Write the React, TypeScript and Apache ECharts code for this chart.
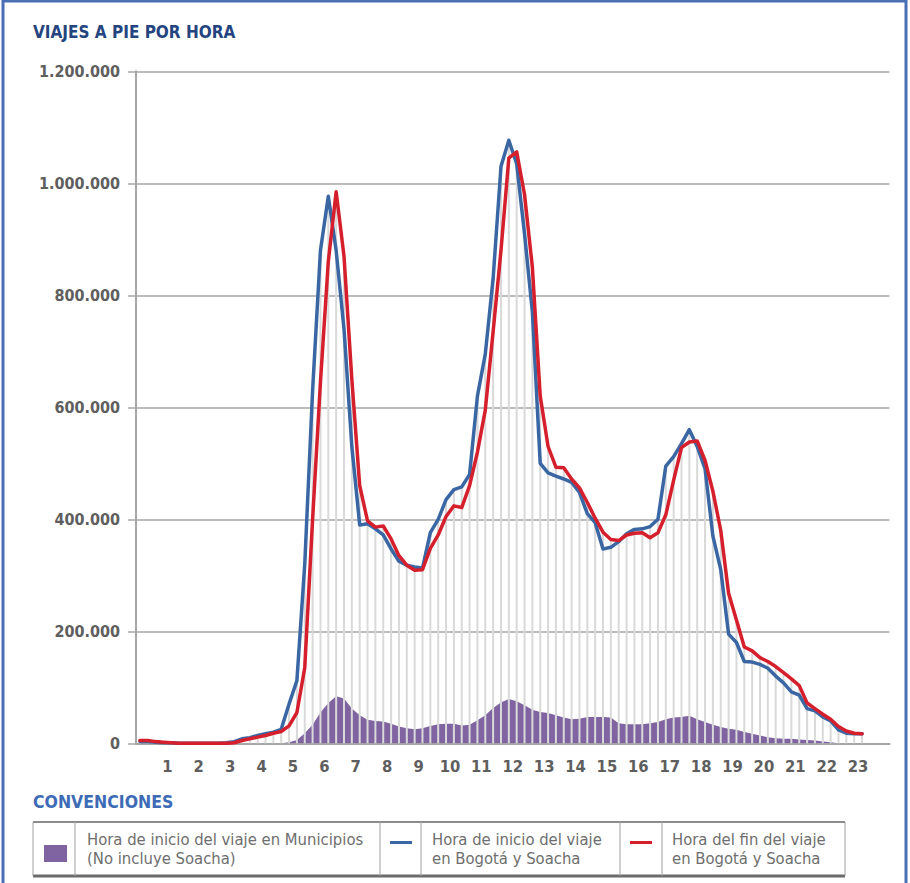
import React, { useEffect, useRef } from "react";
import * as echarts from "echarts";

// Hour tick labels shown on the x axis
const hourTicks = [1, 2, 3, 4, 5, 6, 7, 8, 9, 10, 11, 12, 13, 14, 15, 16, 17, 18, 19, 20, 21, 22, 23];
// Y axis ticks
const yTicks = [0, 200000, 400000, 600000, 800000, 1000000, 1200000];

// Trips on foot per 15-minute slot (slot 0 = 0:00-0:15 ... slot 92 = 23:00-23:15)
const inicioBogota = [
  3000, 3000, 2000, 1000, 1000, 0, 0, 0, 0, 0, 0, 1000,
  3000, 8000, 10000, 14000, 17000, 20000, 25000, 70000, 112000, 320000, 630000, 880000,
  977000, 880000, 740000, 530000, 390000, 392000, 383000, 372000, 347000, 325000, 318000, 315000,
  313000, 376000, 400000, 435000, 453000, 458000, 480000, 620000, 695000, 830000, 1030000, 1077000,
  1035000, 910000, 770000, 500000, 483000, 477000, 472000, 466000, 448000, 410000, 394000, 347000,
  350000, 360000, 374000, 382000, 383000, 387000, 400000, 495000, 512000, 535000, 560000, 530000,
  490000, 370000, 310000, 195000, 180000, 146000, 145000, 141000, 134000, 120000, 108000, 92000,
  86000, 62000, 58000, 47000, 40000, 24000, 18000, 17000, 17000,
];

const finBogota = [
  5000, 5000, 3000, 2000, 1000, 0, 0, 0, 0, 0, 0, 0,
  1000, 5000, 8000, 11000, 14000, 18000, 21000, 31000, 55000, 135000, 400000, 645000,
  860000, 985000, 870000, 650000, 460000, 397000, 386000, 388000, 365000, 335000, 318000, 309000,
  310000, 348000, 372000, 405000, 424000, 421000, 460000, 520000, 595000, 735000, 880000, 1045000,
  1056000, 980000, 850000, 620000, 530000, 493000, 492000, 472000, 456000, 430000, 402000, 377000,
  364000, 362000, 372000, 375000, 376000, 367000, 376000, 408000, 470000, 528000, 538000, 540000,
  505000, 450000, 380000, 268000, 220000, 172000, 165000, 153000, 146000, 137000, 126000, 115000,
  103000, 72000, 62000, 52000, 43000, 30000, 22000, 18000, 17000,
];

const inicioMunicipios = [
  0, 0, 0, 0, 0, 0, 0, 0, 0, 0, 0, 0,
  0, 0, 0, 0, 0, 0, 0, 2000, 6000, 18000, 33000, 55000,
  72000, 84000, 80000, 62000, 50000, 42000, 40000, 39000, 35000, 30000, 27000, 25000,
  27000, 31000, 34000, 35000, 35000, 32000, 33000, 41000, 50000, 63000, 73000, 79000,
  75000, 68000, 60000, 56000, 54000, 50000, 46000, 43000, 44000, 47000, 47000, 47000,
  46000, 36000, 34000, 34000, 34000, 36000, 38000, 43000, 46000, 47000, 49000, 43000,
  38000, 33000, 29000, 26000, 24000, 20000, 17000, 14000, 11000, 9000, 8000, 8000,
  7000, 6000, 5000, 3000, 2000, 0, 0, 0, 0,
];

// Position of each 15-minute slot on the hour axis (slot centre)
const slotHour = (i: number) => i / 4 + 0.125;

const FONT = '"Liberation Sans Narrow", "DejaVu Sans Condensed", "Liberation Sans", sans-serif';

const fmtThousands = (v: number) =>
  String(v).replace(/\B(?=(\d{3})+(?!\d))/g, ".");

export default function App() {
  const ref = useRef<HTMLDivElement>(null);

  useEffect(() => {
    document.body.style.margin = "0";
    if (!ref.current) return;
    const chart = echarts.init(ref.current, null, { renderer: "svg" });

    const muniData = inicioMunicipios.map((v, i) => [slotHour(i), v]);
    const blueData = inicioBogota.map((v, i) => [slotHour(i), v]);
    const redData = finBogota.map((v, i) => [slotHour(i), v]);
    const dropData = inicioBogota.map((v, i) => [slotHour(i), Math.max(v, finBogota[i])]);

    const gray = "#a6a6a6";
    const textGray = "#5e5e5e";
    const legendText = "#6e6e6e";

    const legendRowTop = 822;
    const sepXs = [33, 75, 380, 421, 620, 662, 845];

    const graphic: any[] = [
      {
        type: "rect",
        shape: { x: 3, y: 1, width: 903, height: 900 },
        style: { fill: "none", stroke: "#4a6fb5", lineWidth: 3 },
        z: 100,
      },
      {
        type: "text",
        x: 33,
        y: 32,
        style: {
          text: "VIAJES A PIE POR HORA",
          fill: "#24447f",
          fontSize: 17,
          fontWeight: "bold",
          fontFamily: FONT,
          verticalAlign: "middle",
          textVerticalAlign: "middle",
        },
      },
      {
        type: "text",
        x: 33,
        y: 802,
        style: {
          text: "CONVENCIONES",
          fill: "#3d6bb5",
          fontSize: 17.5,
          fontWeight: "bold",
          fontFamily: FONT,
          verticalAlign: "middle",
          textVerticalAlign: "middle",
        },
      },
      // table borders
      {
        type: "line",
        shape: { x1: 33, y1: legendRowTop, x2: 845, y2: legendRowTop },
        style: { stroke: "#8c8c8c", lineWidth: 2 },
      },
      {
        type: "line",
        shape: { x1: 33, y1: 876, x2: 845, y2: 876 },
        style: { stroke: "#6b6b6b", lineWidth: 3 },
      },
      ...sepXs.map((x) => ({
        type: "line",
        shape: { x1: x, y1: legendRowTop, x2: x, y2: 876 },
        style: { stroke: "#a0a0a0", lineWidth: 1 },
      })),
      // markers
      {
        type: "rect",
        shape: { x: 44, y: 845, width: 23, height: 17 },
        style: { fill: "#8064a2" },
      },
      {
        type: "rect",
        shape: { x: 390, y: 841, width: 22, height: 3 },
        style: { fill: "#3a67a3" },
      },
      {
        type: "rect",
        shape: { x: 630, y: 841, width: 22, height: 3 },
        style: { fill: "#d61f2c" },
      },
      ...[
        [87, 839, "Hora de inicio del viaje en Municipios"],
        [87, 858, "(No incluye Soacha)"],
        [432, 839, "Hora de inicio del viaje"],
        [432, 858, "en Bogotá y Soacha"],
        [672, 839, "Hora del fin del viaje"],
        [672, 858, "en Bogotá y Soacha"],
      ].map(([x, y, t]) => ({
        type: "text",
        x,
        y,
        style: {
          text: t,
          fill: legendText,
          fontSize: 16.5,
          fontFamily: FONT,
          verticalAlign: "middle",
          textVerticalAlign: "middle",
        },
      })),
    ];

    chart.setOption({
      animation: false,
      grid: { left: 136, right: 20.5, top: 71.3, bottom: 139.7, containLabel: false },
      xAxis: {
        type: "value",
        min: 0,
        max: 24,
        interval: 1,
        axisLine: { show: true, lineStyle: { color: gray, width: 2 } },
        axisTick: { show: false },
        splitLine: { show: false },
        axisLabel: {
          margin: 15,
          color: textGray,
          fontSize: 16.5,
          fontWeight: "bold",
          fontFamily: FONT,
          formatter: (v: number) => (hourTicks.includes(v) ? String(v) : ""),
        },
      },
      yAxis: {
        type: "value",
        min: 0,
        max: 1200000,
        interval: 200000,
        axisLine: { show: true, lineStyle: { color: gray, width: 2 } },
        axisTick: { show: true, length: 8, lineStyle: { color: gray, width: 1.5 } },
        splitLine: { show: true, lineStyle: { color: gray, width: 1.5 } },
        axisLabel: {
          margin: 16,
          color: textGray,
          fontSize: 16,
          fontWeight: "bold",
          fontFamily: FONT,
          formatter: (v: number) => (yTicks.includes(v) ? fmtThousands(v) : ""),
        },
      },
      graphic,
      series: [
        {
          name: "Hora de inicio del viaje en Municipios (No incluye Soacha)",
          type: "line",
          data: muniData,
          symbol: "none",
          lineStyle: { width: 0, color: "#8064a2" },
          areaStyle: { color: "#8064a2", opacity: 1 },
          z: 1,
        },
        {
          name: "drop",
          type: "custom",
          data: dropData,
          z: 2,
          silent: true,
          renderItem: (params: any, api: any) => {
            const x = api.value(0);
            const top = api.value(1);
            const p0 = api.coord([x, 0]);
            const p1 = api.coord([x, top]);
            return {
              type: "line",
              shape: { x1: p0[0], y1: p0[1], x2: p1[0], y2: p1[1] },
              style: { stroke: "#d9d9d9", lineWidth: 2 },
            };
          },
        },
        {
          name: "Hora de inicio del viaje en Bogotá y Soacha",
          type: "line",
          data: blueData,
          symbol: "none",
          lineStyle: { width: 3.5, color: "#3a67a3", join: "round", cap: "round" },
          z: 3,
        },
        {
          name: "Hora del fin del viaje en Bogotá y Soacha",
          type: "line",
          data: redData,
          symbol: "none",
          lineStyle: { width: 3.5, color: "#d61f2c", join: "round", cap: "round" },
          z: 4,
        },
      ],
    });

    return () => chart.dispose();
  }, []);

  return <div ref={ref} style={{ width: 910, height: 883 }} />;
}
